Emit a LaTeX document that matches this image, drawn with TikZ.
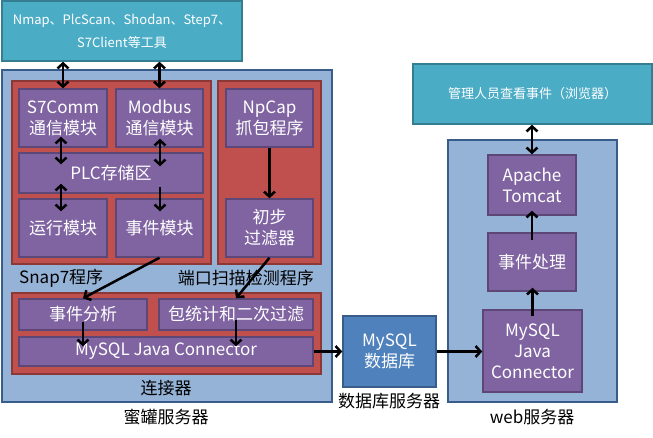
\documentclass[tikz,border=0pt]{standalone}
\usepackage{fontspec}
\setmainfont{Noto Sans CJK SC}
\usepackage{tikz}
\usetikzlibrary{arrows.meta}

\definecolor{toolTeal}{HTML}{4BACC6}
\definecolor{toolTealDark}{HTML}{357D91}
\definecolor{serverBlue}{HTML}{95B3D7}
\definecolor{serverBlueDark}{HTML}{385D8A}
\definecolor{progRed}{HTML}{C0504D}
\definecolor{progRedDark}{HTML}{8C3836}
\definecolor{modPurple}{HTML}{8064A2}
\definecolor{modPurpleDark}{HTML}{5C4776}
\definecolor{dbBlue}{HTML}{4F81BD}

\tikzset{
	toolbox/.style={
		draw=toolTealDark,
		fill=toolTeal,
		line width=1.5pt,
		text=white,
		align=center,
		font=\fontsize{13}{23}\selectfont
	},
	serverbox/.style={
		draw=serverBlueDark,
		fill=serverBlue,
		line width=1.5pt
	},
	progbox/.style={
		draw=progRedDark,
		fill=progRed,
		line width=1.5pt
	},
	modbox/.style={
		draw=modPurpleDark,
		fill=modPurple,
		line width=1.5pt,
		text=white,
		align=center,
		inner sep=0pt,
		font=\fontsize{17}{21}\selectfont
	},
	dbbox/.style={
		draw=serverBlueDark,
		fill=dbBlue,
		line width=1.5pt,
		text=white,
		align=center,
		inner sep=0pt,
		font=\fontsize{17}{21}\selectfont
	},
	caption/.style={
		inner sep=0pt,
		font=\fontsize{17}{21}\selectfont
	},
	flow/.style={
		line width=2.5pt,
		-{Straight Barb[length=5pt,width=11pt,line width=2.5pt]}
	},
	dblflow/.style={
		line width=2.5pt,
		{Straight Barb[length=5pt,width=11pt,line width=2.5pt]}-{Straight Barb[length=5pt,width=11pt,line width=2.5pt]}
	}
}

\begin{document}
\begin{tikzpicture}[x=1pt,y=-1pt]

	\useasboundingbox (0,0) rectangle (653,437);

	\node[
		toolbox,
		minimum width=240pt,
		minimum height=60pt
	] (tools) at (122,31) {Nmap、PlcScan、Shodan、Step7、\\S7Client等工具};

	\node[
		toolbox,
		minimum width=239pt,
		minimum height=60pt
	] (browser) at (532.5,94) {管理人员查看事件（浏览器）};

	\node[
		serverbox,
		minimum width=330pt,
		minimum height=332pt
	] (honeypot) at (167,236) {};

	\node[
		serverbox,
		minimum width=169pt,
		minimum height=262pt
	] (webServer) at (532.5,271) {};

	\node[
		progbox,
		minimum width=199pt,
		minimum height=183pt
	] (snapProg) at (111.5,172.5) {};

	\node[
		progbox,
		minimum width=103pt,
		minimum height=183pt
	] (scanProg) at (269.5,172.5) {};

	\node[
		progbox,
		minimum width=309pt,
		minimum height=81pt
	] (connProg) at (166.5,333.5) {};

	\node[modbox, minimum width=88pt, minimum height=58pt] (s7comm) at (63,118) {S7Comm\\通信模块};
	\node[modbox, minimum width=87pt, minimum height=58pt] (modbus) at (159.5,118) {Modbus\\通信模块};
	\node[modbox, minimum width=184pt, minimum height=40pt] (plcStore) at (111,173) {PLC存储区};
	\node[modbox, minimum width=88pt, minimum height=58pt] (runMod) at (63,228) {运行模块};
	\node[modbox, minimum width=87pt, minimum height=58pt] (eventMod) at (159.5,228) {事件模块};
	\node[modbox, minimum width=87pt, minimum height=58pt] (npcap) at (269.5,118) {NpCap\\抓包程序};
	\node[modbox, minimum width=87pt, minimum height=58pt] (preFilter) at (269.5,228) {初步\\过滤器};
	\node[modbox, minimum width=128pt, minimum height=31pt] (eventAna) at (83,314.5) {事件分析};
	\node[modbox, minimum width=154pt, minimum height=31pt] (pktStat) at (236,314.5) {包统计和二次过滤};
	\node[modbox, minimum width=294pt, minimum height=29pt] (hpConn) at (166,351.5) {MySQL Java Connector};

	\node[dbbox, minimum width=93pt, minimum height=71pt] (mysqlDb) at (389.5,351.5) {MySQL\\数据库};

	\node[modbox, minimum width=88pt, minimum height=60pt] (tomcat) at (532,185) {Apache\\Tomcat};
	\node[modbox, minimum width=88pt, minimum height=58pt] (evtProc) at (532,262) {事件处理};
	\node[modbox, minimum width=99pt, minimum height=82pt] (webConn) at (532.5,351) {MySQL\\Java\\Connector};

	\node[caption, anchor=west] (snapLabel) at (19,278) {Snap7程序};
	\node[caption, anchor=east] (scanLabel) at (314,278) {端口扫描检测程序};
	\node[caption] (connLabel) at (166,388) {连接器};
	\node[caption] (hpLabel) at (166,417) {蜜罐服务器};
	\node[caption] (dbLabel) at (389,401) {数据库服务器};
	\node[caption] (webLabel) at (532,417) {web服务器};

	\draw[dblflow] (tools.south -| s7comm) -- (s7comm.north);
	\draw[dblflow] (tools.south -| modbus) -- (modbus.north);

	\draw[dblflow, shorten <=-11pt, shorten >=-12pt] ([xshift=-2pt]s7comm.south) -- ([xshift=-2pt]s7comm.south |- plcStore.north);
	\draw[dblflow, shorten <=-9pt, shorten >=-14pt] ([xshift=0.5pt]modbus.south) -- ([xshift=0.5pt]modbus.south |- plcStore.north);
	\draw[dblflow, shorten <=-10pt, shorten >=-13pt] ([xshift=-2pt]runMod.north |- plcStore.south) -- ([xshift=-2pt]runMod.north);
	\draw[flow, shorten <=-7pt, shorten >=-13pt] ([xshift=0.5pt]eventMod.north |- plcStore.south) -- ([xshift=0.5pt]eventMod.north);

	\draw[flow] (npcap.south) -- (preFilter.north);

	\draw[flow] (eventMod.south) -- (eventAna.north);
	\draw[flow] (preFilter.south) -- (pktStat.north);

	\draw[flow, shorten <=-9pt, shorten >=-10pt] (eventAna.south) -- (eventAna.south |- hpConn.north);
	\draw[flow, shorten <=-11pt, shorten >=-10pt] (pktStat.south) -- (pktStat.south |- hpConn.north);

	\draw[flow] (hpConn.east) -- (mysqlDb.west);
	\draw[flow] (mysqlDb.east) -- (mysqlDb.east -| webConn.west);

	\draw[flow, shorten <=-7pt, shorten >=-4pt] (webConn.north) -- (webConn.north |- evtProc.south);
	\draw[flow, shorten <=-8pt, shorten >=-5pt] (evtProc.north) -- (evtProc.north |- tomcat.south);
	\draw[dblflow] (browser.south -| tomcat) -- (tomcat.north);

\end{tikzpicture}
\end{document}
